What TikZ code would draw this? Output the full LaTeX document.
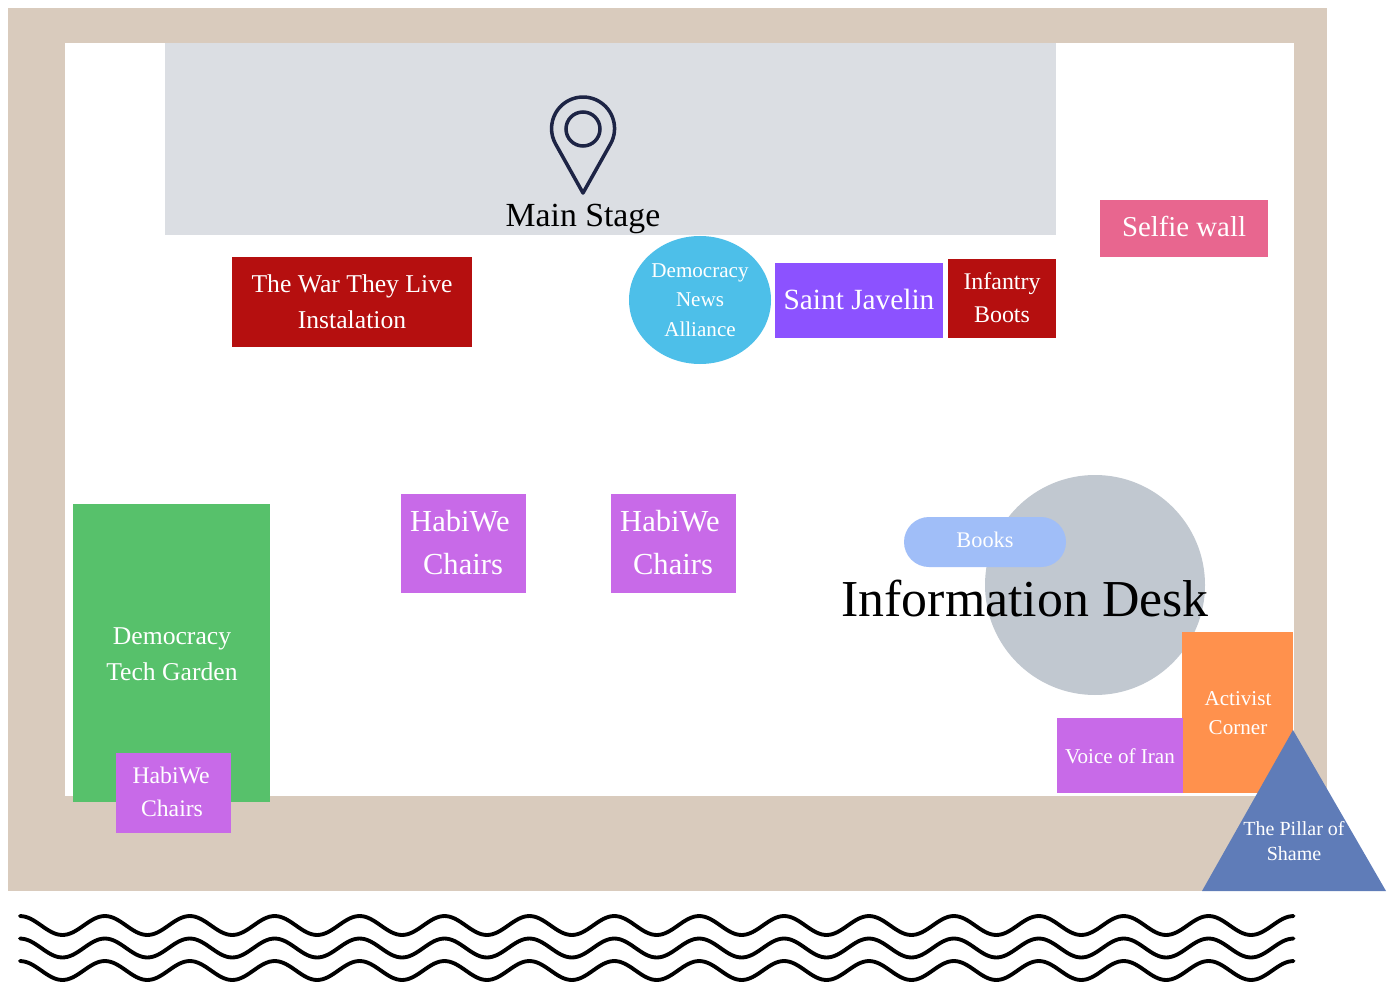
\documentclass[tikz,border=0pt]{standalone}
\usepackage{fontspec}
\setmainfont{Liberation Serif}
\definecolor{wallc}{HTML}{D9CBBD}
\definecolor{stagec}{HTML}{DBDEE3}
\definecolor{pinc}{HTML}{1D2445}
\definecolor{warc}{HTML}{B50F0F}
\definecolor{newsc}{HTML}{4DBFE9}
\definecolor{javelinc}{HTML}{8C52FF}
\definecolor{selfiec}{HTML}{E8668F}
\definecolor{gardenc}{HTML}{57C16B}
\definecolor{chairc}{HTML}{C86AE8}
\definecolor{booksc}{HTML}{A0BEF8}
\definecolor{deskc}{HTML}{C1C8D0}
\definecolor{activistc}{HTML}{FF914D}
\definecolor{pillarc}{HTML}{5F7CB8}
\tikzset{
	boothtext/.style={text=white,align=center,inner sep=0pt},
	small/.style={boothtext,font=\fontsize{12}{16.8}\selectfont},
	medium/.style={boothtext,font=\fontsize{14.6}{20.5}\selectfont},
	large/.style={boothtext,font=\fontsize{17.4}{24.5}\selectfont},
}
\begin{document}
\begin{tikzpicture}[x=0.02cm,y=-0.02cm]
	\useasboundingbox (0,0) rectangle (1396,1000);
	%WALLS
	\fill[wallc] (8,8) rectangle (1327,891);
	\fill[white] (65,43) rectangle (1294,796);
	
	%MAIN STAGE
	\fill[stagec] (165,43) rectangle (1056,235);
	\draw[pinc,line width=2pt,line join=round] (583,193)--(610.6,143.8) arc[start angle=29,end angle=-209,radius=31.5]--cycle;
	\draw[pinc,line width=2pt] (583,129) circle (17);
	\node[boothtext,text=black,font=\fontsize{19.2}{23}\selectfont] (stage) at (583,219) {Main Stage};
	
	%TOP ROW
	\fill[warc] (232,257) rectangle (472,347);
		\node[medium] (war) at (352,302) {The War They Live\\Instalation};
	\fill[newsc] (700,300) ellipse (71 and 64);
		\node[small] (news) at (700,300) {Democracy\\News\\Alliance};
	\fill[javelinc] (775,263) rectangle (943,338);
		\node[boothtext,font=\fontsize{16.7}{20}\selectfont] (javelin) at (859,299) {Saint Javelin};
	\fill[warc] (948,259) rectangle (1056,338);
		\node[boothtext,font=\fontsize{13.6}{18.6}\selectfont] (boots) at (1002,298) {Infantry\\Boots};
	\fill[selfiec] (1100,200) rectangle (1268,257);
		\node[boothtext,font=\fontsize{16.4}{20}\selectfont] (selfie) at (1184,226) {Selfie wall};
	
	%GARDEN
	\fill[gardenc] (73,504) rectangle (270,802);
		\node[medium] (garden) at (172,654) {Democracy\\Tech Garden};
	\fill[chairc] (116,753) rectangle (231,833);
		\node[boothtext,font=\fontsize{13.5}{18.7}\selectfont] (chairsa) at (172,792) {HabiWe\hspace*{1pt}\\Chairs};
	
	%CHAIRS
	\foreach \i/\n in {401/chairsb,611/chairsc}{
	\fill[chairc] (\i,494) rectangle (\i+125,593);
		\node[large] (\n) at (\i+62,543) {HabiWe\hspace*{3.5pt}\\Chairs};
	}
	
	%INFORMATION DESK
	\fill[deskc] (1095,585) circle (110);
	\fill[booksc,rounded corners=25*0.02cm] (904,517) rectangle (1066,567);
		\node[boothtext,font=\fontsize{12.7}{16}\selectfont] (books) at (985,540) {Books};
	\node[boothtext,text=black,font=\fontsize{29.5}{34}\selectfont] (desk) at (1025,599) {Information Desk};
	
	%CORNER
	\fill[activistc] (1182,632) rectangle (1293,793);
		\node[small] (activist) at (1238,713) {Activist\\Corner};
	\fill[chairc] (1057,718) rectangle (1183,793);
		\node[small] (voice) at (1120,756) {Voice of Iran};
	\fill[pillarc] (1293,730)--(1386,891)--(1202,891)--cycle;
		\node[boothtext,font=\fontsize{11.4}{14.7}\selectfont] (pillar) at (1294,841) {The Pillar of\\Shame};
	
	%WAVES
	\foreach \i in {0,1,2}{
	\draw[black,line width=2.2pt,line cap=round] plot[domain=0:5400,samples=241,smooth] (\x/360*84.9+20,{925.5+22.5*\i-9.5*cos(\x)});
	}
\end{tikzpicture}
\end{document}
